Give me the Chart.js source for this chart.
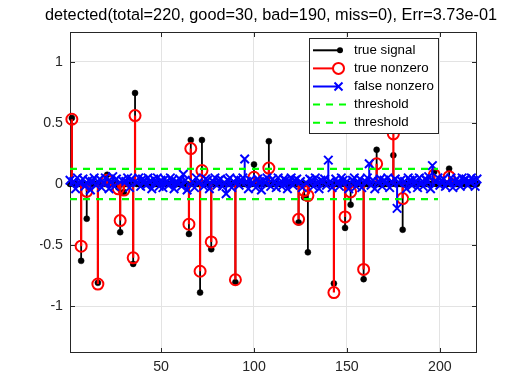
<!DOCTYPE html>
<html>
<head>
<meta charset="utf-8">
<script src="https://cdn.jsdelivr.net/npm/chart.js@4/dist/chart.umd.min.js"></script>
<style>
  html, body { margin: 0; padding: 0; background: #fff; }
</style>
</head>
<body>
<canvas id="myChart" width="509" height="388"></canvas>
<script>
'use strict';

// ************* DATA *******************

const titleText = 'detected(total=220, good=30, bad=190, miss=0), Err=3.73e-01';
const legendLabels = ['true signal', 'true nonzero', 'false nonzero', 'threshold', 'threshold'];

// tick labels
const xTicks = [50, 100, 150, 200];
const yTicks = [-1, -0.5, 0, 0.5, 1];

// indices (1-based) where the true signal is nonzero
const supportIdx = [2, 7, 10, 16, 21, 27, 28, 30, 35, 36, 65, 66, 71, 72, 77, 90, 100, 108,
  124, 127, 129, 143, 149, 152, 159, 166, 175, 180, 197, 205];

// true signal values on the support
const trueValues = [0.54, -0.63, -0.285, -0.81, 0.075, -0.03, -0.395, -0.065, -0.655, 0.745,
  -0.41, 0.36, -0.89, 0.36, -0.535, -0.805, 0.16, 0.35, -0.315, -0.11, -0.56, -0.815, -0.36,
  -0.17, -0.78, 0.28, 0.235, -0.375, 0.10, 0.125];

// estimated values, one per index 1..220
const estimate = [
  0.03, 0.53, 0.02, -0.04, 0.05, 0.01, -0.51, 0.04, -0.02, -0.06,
  0.03, -0.05, 0.02, 0.05, -0.01, -0.82, 0.04, -0.03, 0.01, 0.05,
  0.03, -0.04, 0.02, 0.06, -0.02, 0.04, -0.04, -0.30, 0.03, -0.05,
  0.02, 0.05, -0.03, 0.04, -0.605, 0.56, 0.01, 0.05, -0.02, 0.04,
  0.03, -0.01, 0.05, 0.02, -0.04, 0.04, 0.01, 0.05, -0.02, 0.03,
  -0.03, 0.04, 0.02, -0.01, 0.05, 0.03, -0.04, 0.02, 0.01, 0.04,
  -0.02, 0.08, 0.03, -0.05, -0.33, 0.29, 0.02, -0.03, 0.05, 0.01,
  -0.715, 0.11, -0.02, 0.04, 0.03, -0.04, -0.475, 0.02, 0.05, -0.01,
  0.03, 0.04, -0.02, 0.01, -0.08, 0.03, 0.05, -0.03, 0.02, -0.785,
  0.04, -0.01, 0.03, 0.05, 0.205, 0.02, -0.04, 0.03, 0.01, 0.055,
  -0.03, 0.04, 0.02, -0.05, 0.03, 0.01, 0.05, 0.13, -0.02, 0.04,
  0.02, -0.03, 0.05, 0.01, -0.02, 0.04, 0.03, -0.04, 0.02, 0.05,
  -0.01, 0.03, 0.04, -0.29, 0.02, -0.03, -0.055, 0.01, -0.095, 0.04,
  0.03, -0.02, 0.05, 0.01, -0.04, 0.03, 0.02, 0.04, -0.01, 0.195,
  0.02, -0.03, -0.89, 0.04, 0.01, -0.02, 0.05, 0.03, -0.27, 0.02,
  -0.04, -0.065, 0.03, 0.05, -0.02, 0.01, 0.04, -0.03, -0.70, 0.02,
  0.05, 0.165, -0.01, 0.03, -0.04, 0.165, 0.02, 0.04, -0.02, 0.03,
  0.01, 0.05, -0.03, 0.02, 0.41, 0.04, -0.20, 0.01, 0.03, -0.12,
  0.02, -0.04, 0.05, 0.03, -0.01, 0.04, 0.02, -0.03, 0.05, 0.01,
  -0.02, 0.04, 0.03, 0.06, -0.04, 0.15, 0.075, 0.02, 0.05, -0.01,
  0.03, 0.04, -0.02, 0.01, 0.06, 0.05, -0.03, 0.02, 0.04, 0.01,
  -0.02, 0.05, 0.03, 0.04, -0.01, 0.02, 0.05, 0.03, -0.02, 0.04
];

const thresholdValue = 0.124;
const thresholdSpan = [1, 199];

// ************* BUILD SERIES *******************

let n = estimate.length;
let trueSignal = new Array(n).fill(0);
supportIdx.forEach((k, j) => { trueSignal[k - 1] = trueValues[j]; });

let allIdx = [];
for (let i = 1; i <= n; i++) allIdx.push(i);
let falseIdx = allIdx.filter(i => !supportIdx.includes(i));

function points(indices, vector) {
  return indices.map(i => ({x: i, y: vector[i - 1]}));
}

// each stem: base at 0, tip at value, then a gap
function stems(indices, vector) {
  let pts = [];
  for (let i of indices) {
    pts.push({x: i, y: 0}, {x: i, y: vector[i - 1]}, {x: i, y: null});
  }
  return pts;
}

// ************* PLUGIN: title, axes box, inner ticks, legend *******************

const matlabLook = {
  id: 'matlabLook',
  beforeDatasetsDraw(chart) {
    const {ctx, chartArea: a, scales} = chart;
    ctx.save();
    ctx.strokeStyle = '#262626';
    ctx.lineWidth = 1;
    ctx.beginPath();
    for (let v of xTicks) {
      let px = Math.round(scales.x.getPixelForValue(v)) + 0.5;
      ctx.moveTo(px, a.top); ctx.lineTo(px, a.top + 5);
      ctx.moveTo(px, a.bottom); ctx.lineTo(px, a.bottom - 5);
    }
    for (let v of yTicks) {
      let py = Math.round(scales.y.getPixelForValue(v)) + 0.5;
      ctx.moveTo(a.left, py); ctx.lineTo(a.left + 5, py);
      ctx.moveTo(a.right, py); ctx.lineTo(a.right - 5, py);
    }
    ctx.stroke();
    ctx.strokeRect(a.left + 0.5, a.top + 0.5, a.right - a.left - 1, a.bottom - a.top - 1);
    ctx.restore();
  },
  afterDatasetsDraw(chart) {
    const ctx = chart.ctx;
    ctx.save();

    // title, centred a little left of the axes centre like the original
    ctx.font = '16.3px "Liberation Sans", Arial, sans-serif';
    ctx.fillStyle = '#000';
    ctx.textAlign = 'center';
    ctx.textBaseline = 'alphabetic';
    ctx.fillText(titleText, 271, 20);

    // legend box
    const lx = 309.5, ly = 38.5, lw = 129, lh = 95;
    ctx.fillStyle = '#ffffff';
    ctx.fillRect(lx, ly, lw, lh);
    ctx.strokeStyle = '#262626';
    ctx.lineWidth = 1;
    ctx.strokeRect(lx, ly, lw, lh);

    ctx.font = '13.3px "Liberation Sans", Arial, sans-serif';
    ctx.textBaseline = 'middle';
    ctx.textAlign = 'left';
    for (let r = 0; r < legendLabels.length; r++) {
      let y = 50.3 + r * 18.1;
      ctx.lineWidth = 2;
      ctx.setLineDash([]);
      if (r === 0) {
        ctx.strokeStyle = '#000';
        ctx.beginPath(); ctx.moveTo(313, y); ctx.lineTo(340, y); ctx.stroke();
        ctx.fillStyle = '#000';
        ctx.beginPath(); ctx.arc(340, y, 3, 0, Math.PI * 2); ctx.fill();
      } else if (r === 1) {
        ctx.strokeStyle = '#ff0000';
        ctx.beginPath(); ctx.moveTo(313, y); ctx.lineTo(333, y); ctx.stroke();
        ctx.beginPath(); ctx.arc(338.5, y, 5.5, 0, Math.PI * 2); ctx.stroke();
      } else if (r === 2) {
        ctx.strokeStyle = '#0000ff';
        ctx.beginPath(); ctx.moveTo(313, y); ctx.lineTo(338.5, y);
        ctx.moveTo(334.5, y - 4); ctx.lineTo(342.5, y + 4);
        ctx.moveTo(334.5, y + 4); ctx.lineTo(342.5, y - 4);
        ctx.stroke();
      } else {
        ctx.strokeStyle = '#00ff00';
        ctx.setLineDash([7, 6]);
        ctx.beginPath(); ctx.moveTo(313, y); ctx.lineTo(352, y); ctx.stroke();
        ctx.setLineDash([]);
      }
      ctx.fillStyle = '#000';
      ctx.fillText(legendLabels[r], 354, y);
    }
    ctx.restore();
  }
};

// ************* CHART *******************

const ctx = document.getElementById('myChart').getContext('2d');
const tickFont = {family: '"Liberation Sans", Arial, sans-serif', size: 14.2};

const chartObj = {
  type: 'scatter',
  data: {
    datasets: [
      { // upper threshold
        data: [{x: thresholdSpan[0], y: thresholdValue}, {x: thresholdSpan[1], y: thresholdValue}],
        showLine: true, borderColor: '#00ff00', borderWidth: 2.2, borderDash: [7, 6],
        pointRadius: 0, order: 1
      },
      { // lower threshold
        data: [{x: thresholdSpan[0], y: -thresholdValue}, {x: thresholdSpan[1], y: -thresholdValue}],
        showLine: true, borderColor: '#00ff00', borderWidth: 2.2, borderDash: [7, 6],
        pointRadius: 0, order: 2
      },
      { // false nonzero markers
        data: points(falseIdx, estimate),
        pointStyle: 'crossRot', pointRadius: 6, pointBorderWidth: 2,
        pointBorderColor: '#0000ff', pointBackgroundColor: '#0000ff', clip: false, order: 3
      },
      { // false nonzero stems
        data: stems(falseIdx, estimate),
        showLine: true, spanGaps: false, borderColor: '#0000ff', borderWidth: 2,
        pointRadius: 0, order: 4
      },
      { // true nonzero markers
        data: points(supportIdx, estimate),
        pointStyle: 'circle', pointRadius: 5.5, pointBorderWidth: 2,
        pointBorderColor: '#ff0000', pointBackgroundColor: 'rgba(0,0,0,0)', clip: false, order: 5
      },
      { // true nonzero stems
        data: stems(supportIdx, estimate),
        showLine: true, spanGaps: false, borderColor: '#ff0000', borderWidth: 2.2,
        pointRadius: 0, order: 6
      },
      { // true signal markers
        data: points(allIdx, trueSignal),
        pointStyle: 'circle', pointRadius: 3, pointBorderWidth: 0.5,
        pointBorderColor: '#000', pointBackgroundColor: '#000', clip: false, order: 7
      },
      { // true signal stems
        data: stems(supportIdx, trueSignal),
        showLine: true, spanGaps: false, borderColor: '#000', borderWidth: 1.8,
        pointRadius: 0, order: 8
      }
    ]
  },
  options: {
    responsive: false,
    devicePixelRatio: 1,
    animation: false,
    events: [],
    layout: {padding: {left: 40, right: 32, top: 32, bottom: 0}},
    plugins: {
      legend: {display: false},
      tooltip: {enabled: false},
      title: {display: false}
    },
    scales: {
      x: {
        type: 'linear',
        min: 1,
        max: 220,
        afterBuildTicks: s => { s.ticks = xTicks.map(v => ({value: v})); },
        afterFit: s => { s.height = 35; },
        ticks: {color: '#262626', font: tickFont, padding: 6, maxRotation: 0, callback: v => String(v)},
        grid: {color: '#e3e3e3', lineWidth: 1, drawTicks: false},
        border: {display: false}
      },
      y: {
        type: 'linear',
        min: -1.385,
        max: 1.245,
        afterBuildTicks: s => { s.ticks = yTicks.map(v => ({value: v})); },
        afterFit: s => { s.width = 30; },
        ticks: {color: '#262626', font: tickFont, padding: 7, callback: v => String(v)},
        grid: {color: '#e3e3e3', lineWidth: 1, drawTicks: false},
        border: {display: false}
      }
    }
  },
  plugins: [matlabLook]
};

const myChart = new Chart(ctx, chartObj); // eslint-disable-line
</script>
</body>
</html>
